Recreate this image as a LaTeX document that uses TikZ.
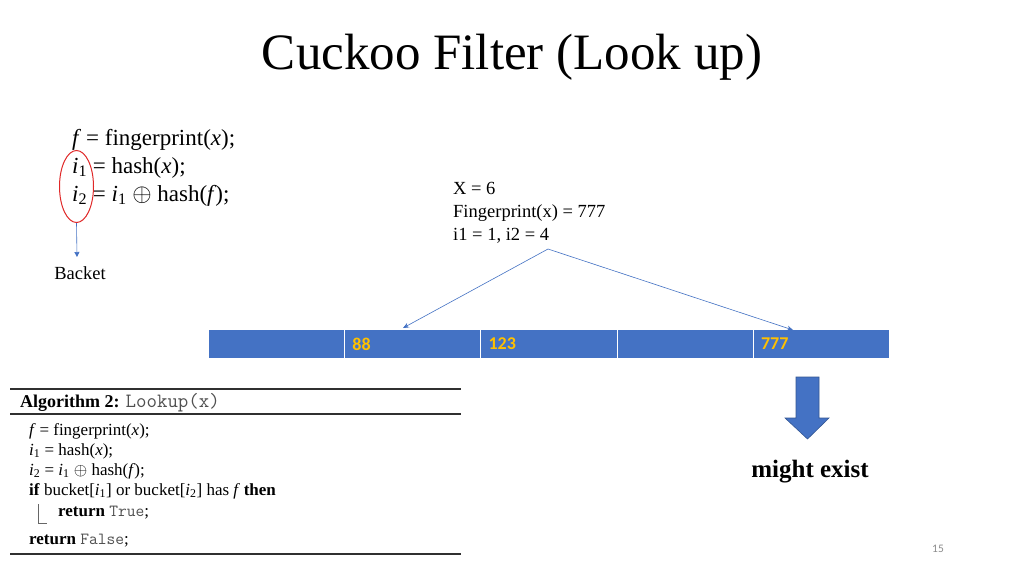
\documentclass[tikz,border=0pt]{standalone}
\usepackage{fontspec}
\setmainfont{Liberation Serif}
\newfontfamily\calibrifont{Carlito}
\usetikzlibrary{arrows.meta,shapes.geometric}
\definecolor{barblue}{HTML}{4472C4}
\definecolor{celltext}{HTML}{FFC000}
\definecolor{ringred}{HTML}{E02828}
\definecolor{pagegray}{HTML}{8C8C8C}
\definecolor{monogray}{HTML}{505050}
\definecolor{rulegray}{HTML}{303030}
\newcommand\fvar{\textit{f\kern0.08em}}
\newcommand\xvar{\textit{x}}
\newcommand\ivar[1]{\textit{i}\textsubscript{#1}}
\tikzset{
  txt/.style={anchor=base west,inner sep=0pt},
  topcode/.style={txt,font=\fontsize{23}{27}\selectfont},
  infotxt/.style={txt,font=\fontsize{18.5}{23}\selectfont},
  algtxt/.style={txt,font=\fontsize{17}{20}\selectfont},
  cellbox/.style={draw=white,line width=1pt,fill=barblue,minimum width=136.2pt,minimum height=29pt,anchor=north west,inner sep=0pt},
  celllabel/.style={anchor=west,inner sep=0pt,text=celltext,font=\calibrifont\bfseries\fontsize{18}{20}\selectfont},
  thinarrow/.style={draw=barblue,line width=0.6pt,-{Stealth[length=6pt,width=5pt]}},
  algrule/.style={draw=rulegray,line width=1.2pt}
}
\begin{document}
\begin{tikzpicture}[x=1pt,y=-1pt]
\useasboundingbox (0,0) rectangle (1024,576);
\fill[white] (0,0) rectangle (1024,576);

% title
\node[font=\fontsize{51}{60}\selectfont,inner sep=0pt] (title) at (512,57) {Cuckoo Filter (Look up)};

% top code
\node[topcode] (c1) at (72,145) {\fvar{} = fingerprint(\xvar);};
\node[topcode] (c2) at (72,173) {\ivar{1} = hash(\xvar);};
\node[topcode] (c3) at (72,201) {\ivar{2} = \ivar{1} $\oplus$ hash(\fvar);};

% red ring and arrow
\node[draw=ringred,line width=1pt,ellipse,minimum width=34pt,minimum height=72pt,inner sep=0pt] (ring) at (76.5,186.5) {};
\node[infotxt,anchor=base] (backet) at (80,279) {Backet};
\coordinate (bktip) at (77,257);
\draw[thinarrow,-{Triangle[length=5pt,width=5pt]}] (ring.south) -- (bktip);

% info block
\node[infotxt] (info1) at (453,194) {X = 6};
\node[infotxt] (info2) at (453,217) {Fingerprint(x) = 777};
\node[infotxt] (info3) at (453,240) {i1 = 1, i2 = 4};
\coordinate (src) at (548,249);

% buckets
\node[cellbox] (b1) at (208,329) {};
\node[cellbox] (b2) at (344.2,329) {};
\node[cellbox] (b3) at (480.4,329) {};
\node[cellbox] (b4) at (616.6,329) {};
\node[cellbox] (b5) at (752.8,329) {};
\node[celllabel] (l2) at ([xshift=8pt]b2.west) {88};
\node[celllabel] (l3) at ([xshift=8pt]b3.west) {123};
\node[celllabel] (l5) at ([xshift=8pt]b5.west) {777};

\coordinate (t2) at (403,328);
\coordinate (t5) at (793,330);
\draw[thinarrow] (src) -- (t2);
\draw[thinarrow] (src) -- (t5);

% algorithm box
\draw[algrule] (10,389) -- (461,389);
\draw[algrule] (10,414) -- (461,414);
\draw[algrule] (10,554) -- (461,554);
\node[txt,font=\fontsize{18}{20}\selectfont] (algh) at (20,407) {\textbf{Algorithm 2:} {\ttfamily\fontsize{20.3}{22}\selectfont\color{monogray}Lookup(x)}};
\node[algtxt] (a1) at (29,435) {\fvar{} = fingerprint(\xvar);};
\node[algtxt] (a2) at (29,455) {\ivar{1} = hash(\xvar);};
\node[algtxt] (a3) at (29,475) {\ivar{2} = \ivar{1} $\oplus$ hash(\fvar);};
\node[algtxt] (a4) at (29,495) {\textbf{if} bucket[\ivar{1}] or bucket[\ivar{2}] has \fvar{} \textbf{then}};
\node[algtxt] (a5) at (58,516) {\textbf{return} {\ttfamily\fontsize{17}{20}\selectfont\color{monogray}True};};
\node[algtxt] (a6) at (29,544) {\textbf{return} {\ttfamily\fontsize{17}{20}\selectfont\color{monogray}False};};
\draw[draw=black!60,line width=0.6pt] (38,504) -- (38,523) -- (47,523);

% big down arrow
\filldraw[fill=barblue,draw=barblue!75!black,line width=0.6pt]
  (796,377) -- (819,377) -- (819,418) -- (829,418) -- (807.5,439) -- (785,418) -- (796,418) -- cycle;
\node[font=\bfseries\fontsize{25}{28}\selectfont,inner sep=0pt,anchor=base] (might) at (810,477) {might exist};

% page number
\node[font=\calibrifont\fontsize{11.5}{13}\selectfont,text=pagegray] (pg) at (938,549) {15};
\end{tikzpicture}
\end{document}
